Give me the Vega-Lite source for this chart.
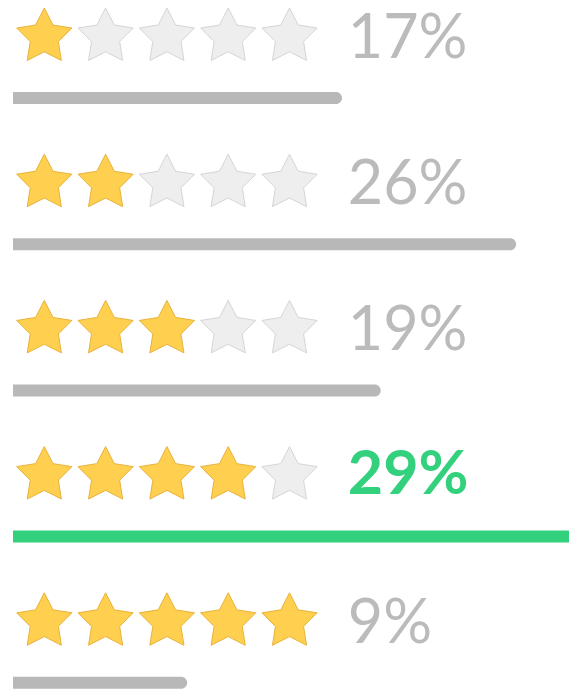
{
  "$schema": "https://vega.github.io/schema/vega-lite/v6.json",
  "width": 569,
  "height": 689,
  "padding": 0,
  "autosize": {"type": "none"},
  "background": "white",
  "config": {"view": {"stroke": null}, "scale": {"continuousPadding": 0}},
  "datasets": {
    "ratings": [
      {"rating": 1, "pct": 17, "label": "17%"},
      {"rating": 2, "pct": 26, "label": "26%"},
      {"rating": 3, "pct": 19, "label": "19%"},
      {"rating": 4, "pct": 29, "label": "29%"},
      {"rating": 5, "pct": 9, "label": "9%"}
    ],
    "stars": [
      {"rating": 1, "pos": 1}, {"rating": 1, "pos": 2}, {"rating": 1, "pos": 3}, {"rating": 1, "pos": 4}, {"rating": 1, "pos": 5},
      {"rating": 2, "pos": 1}, {"rating": 2, "pos": 2}, {"rating": 2, "pos": 3}, {"rating": 2, "pos": 4}, {"rating": 2, "pos": 5},
      {"rating": 3, "pos": 1}, {"rating": 3, "pos": 2}, {"rating": 3, "pos": 3}, {"rating": 3, "pos": 4}, {"rating": 3, "pos": 5},
      {"rating": 4, "pos": 1}, {"rating": 4, "pos": 2}, {"rating": 4, "pos": 3}, {"rating": 4, "pos": 4}, {"rating": 4, "pos": 5},
      {"rating": 5, "pos": 1}, {"rating": 5, "pos": 2}, {"rating": 5, "pos": 3}, {"rating": 5, "pos": 4}, {"rating": 5, "pos": 5}
    ]
  },
  "layer": [
    {
      "layer": [
        {
          "data": {"name": "stars"},
          "mark": {
            "type": "point",
            "shape": "M0,-1L0.2998,-0.4126L0.9511,-0.309L0.4851,0.1576L0.5878,0.809L0,0.51L-0.5878,0.809L-0.4851,0.1576L-0.9511,-0.309L-0.2998,-0.4126Z",
            "size": 3364,
            "filled": true,
            "opacity": 1,
            "strokeWidth": 1,
            "strokeJoin": "round"
          },
          "encoding": {
            "x": {"field": "pos", "type": "quantitative", "scale": {"domain": [1, 5], "range": [44.3, 289.5], "nice": false, "zero": false, "padding": 0}, "axis": null},
            "y": {"field": "rating", "type": "quantitative", "scale": {"domain": [1, 5], "range": [37, 621.8], "nice": false, "zero": false, "padding": 0}, "axis": null},
            "fill": {"condition": {"test": "datum.pos <= datum.rating", "value": "#FFCF4F"}, "value": "#EEEEEE"},
            "stroke": {"condition": {"test": "datum.pos <= datum.rating", "value": "#E8B23A"}, "value": "#D5D5D5"}
          }
        },
        {
          "data": {"name": "ratings"},
          "transform": [
            {"joinaggregate": [{"op": "max", "field": "pct", "as": "maxPct"}]},
            {"filter": "datum.pct < datum.maxPct"}
          ],
          "mark": {"type": "text", "align": "left", "baseline": "alphabetic", "dy": 21, "dx": -3, "font": "Lato", "fontSize": 61, "color": "#BBBBBB"},
          "encoding": {
            "x": {"datum": 6, "type": "quantitative"},
            "y": {"field": "rating", "type": "quantitative", "scale": {"domain": [1, 5], "range": [37, 621.8], "nice": false, "zero": false, "padding": 0}, "axis": null},
            "text": {"field": "label"}
          }
        },
        {
          "data": {"name": "ratings"},
          "transform": [
            {"joinaggregate": [{"op": "max", "field": "pct", "as": "maxPct"}]},
            {"filter": "datum.pct == datum.maxPct"}
          ],
          "mark": {"type": "text", "align": "left", "baseline": "alphabetic", "dy": 18, "dx": -3, "font": "Lato", "fontWeight": "bold", "fontSize": 61, "color": "#33D17E"},
          "encoding": {
            "x": {"datum": 6, "type": "quantitative"},
            "y": {"field": "rating", "type": "quantitative", "scale": {"domain": [1, 5], "range": [37, 621.8], "nice": false, "zero": false, "padding": 0}, "axis": null},
            "text": {"field": "label"}
          }
        }
      ]
    },
    {
      "data": {"name": "ratings"},
      "transform": [{"joinaggregate": [{"op": "max", "field": "pct", "as": "maxPct"}]}],
      "mark": {"type": "bar", "size": 12, "yOffset": 61, "cornerRadiusTopRight": 6, "cornerRadiusBottomRight": 6},
      "encoding": {
        "x": {"field": "pct", "type": "quantitative", "scale": {"domain": [0, 29], "range": [13, 574.2], "nice": false, "zero": true, "padding": 0}, "axis": null},
        "x2": {"datum": 0},
        "y": {"field": "rating", "type": "quantitative", "scale": {"domain": [1, 5], "range": [37, 621.8], "nice": false, "zero": false, "padding": 0}, "axis": null},
        "color": {"condition": {"test": "datum.pct == datum.maxPct", "value": "#33D17E"}, "value": "#B8B8B8"}
      }
    }
  ],
  "resolve": {"scale": {"x": "independent"}}
}
